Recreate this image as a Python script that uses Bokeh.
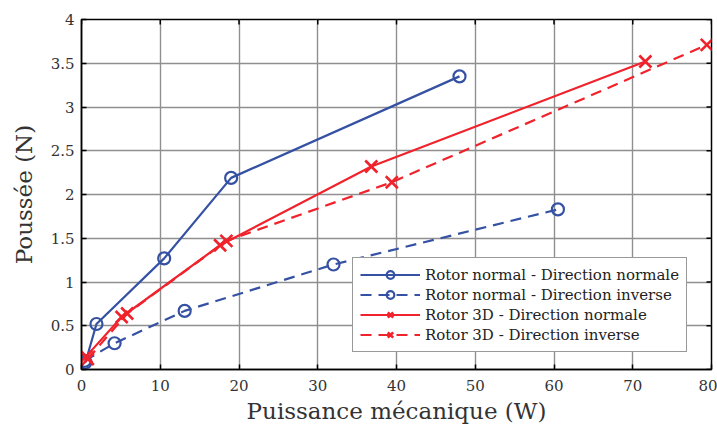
import math
from bokeh.plotting import figure
from bokeh.models import FixedTicker, Range1d, Legend
from bokeh.embed import file_html
from bokeh.resources import INLINE

# Data
rn_norm_x = [0.5, 1.9, 10.5, 19.0, 48.0]
rn_norm_y = [0.08, 0.52, 1.27, 2.19, 3.35]

rn_inv_x = [0.4, 4.2, 13.1, 32.0, 60.5]
rn_inv_y = [0.10, 0.30, 0.67, 1.20, 1.83]

r3d_norm_x = [0.6, 5.1, 17.6, 36.8, 71.6]
r3d_norm_y = [0.15, 0.60, 1.42, 2.32, 3.52]

r3d_inv_x = [0.8, 5.8, 18.4, 39.4, 79.4]
r3d_inv_y = [0.12, 0.64, 1.47, 2.14, 3.71]

labels = ["Rotor normal - Direction normale",
          "Rotor normal - Direction inverse",
          "Rotor 3D - Direction normale",
          "Rotor 3D - Direction inverse"]

x_ticks = [0, 10, 20, 30, 40, 50, 60, 70, 80]
y_ticks = [0, 0.5, 1, 1.5, 2, 2.5, 3, 3.5, 4]
y_tick_labels = ["0", "0.5", "1", "1.5", "2", "2.5", "3", "3.5", "4"]

BLUE = "#3551a3"
RED = "#f0222b"
FONT = "DejaVu Serif"

p = figure(width=717, height=432, output_backend="svg", toolbar_location=None,
           x_range=Range1d(0, 80), y_range=Range1d(0, 4),
           min_border_left=81, min_border_right=6, min_border_top=19,
           min_border_bottom=63)

xax = p.xaxis[0]
yax = p.yaxis[0]
xax.ticker = FixedTicker(ticks=x_ticks)
yax.ticker = FixedTicker(ticks=y_ticks)
yax.major_label_overrides = {t: l for t, l in zip(y_ticks, y_tick_labels)}
xax.major_label_overrides = {t: str(t) for t in x_ticks}

for ax in (xax, yax):
    ax.major_tick_in = 5
    ax.major_tick_out = 0
    ax.minor_tick_in = 0
    ax.minor_tick_out = 0
    ax.axis_line_color = "black"
    ax.axis_line_width = 1.5
    ax.major_tick_line_color = "black"
    ax.major_tick_line_width = 1.5
    ax.major_label_text_font = FONT
    ax.major_label_text_font_size = "15px"
    ax.major_label_text_color = "#333333"
    ax.axis_label_text_font = FONT
    ax.axis_label_text_font_style = "normal"
    ax.axis_label_text_font_size = "23px"
    ax.axis_label_text_color = "#333333"

xax.axis_label = "Puissance mécanique (W)"
yax.axis_label = "Poussée (N)"
xax.major_label_standoff = 10
yax.major_label_standoff = 7
xax.axis_label_standoff = 4
yax.axis_label_standoff = 11

p.grid.grid_line_color = "#8f8f8f"
p.grid.grid_line_width = 1.4
p.grid.grid_line_alpha = 1.0
p.outline_line_color = "black"
p.outline_line_width = 1.5
p.outline_line_alpha = 1.0

# mirrored inward ticks on the top and right borders (clipped to frame)
p.scatter(x=x_ticks, y=[p.y_range.end] * len(x_ticks), marker="dash",
          angle=math.pi / 2, size=10, line_color="black", line_width=1.5)
p.scatter(x=[p.x_range.end] * len(y_ticks), y=y_ticks, marker="dash",
          size=10, line_color="black", line_width=1.5)

series = [
    (rn_norm_x, rn_norm_y, BLUE, "solid", "circle", labels[0]),
    (rn_inv_x, rn_inv_y, BLUE, "11 7", "circle", labels[1]),
    (r3d_norm_x, r3d_norm_y, RED, "solid", "x", labels[2]),
    (r3d_inv_x, r3d_inv_y, RED, "11 7", "x", labels[3]),
]

legend_items = []
for xs, ys, col, dash, mk, lab in series:
    ln = p.line(xs, ys, line_color=col, line_width=2.2, line_dash=dash)
    if mk == "circle":
        sc = p.scatter(xs, ys, marker="circle", size=12, fill_alpha=0,
                       line_color=col, line_width=2.2)
    else:
        sc = p.scatter(xs, ys, marker="x", size=17, line_color=col,
                       line_width=2.6)
    legend_items.append((lab, [ln, sc]))

legend = Legend(items=legend_items, location=(271, 17))
legend.label_text_font = FONT
legend.label_text_font_size = "15px"
legend.label_text_color = "#222222"
legend.label_standoff = 5
legend.glyph_width = 60
legend.glyph_height = 19
legend.label_height = 19
legend.spacing = 1
legend.padding = 7
legend.margin = 0
legend.border_line_color = "#333333"
legend.border_line_width = 1.2
legend.background_fill_alpha = 1.0
p.add_layout(legend, "center")

open("out.html", "w").write(file_html(p, INLINE))
